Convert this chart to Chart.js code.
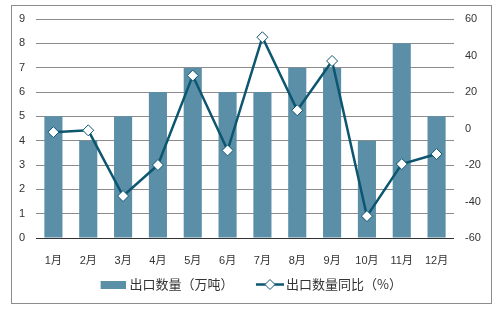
<!DOCTYPE html>
<html>
<head>
<meta charset="utf-8">
<script src="https://cdn.jsdelivr.net/npm/chart.js@4.4.1/dist/chart.umd.min.js"></script>
<style>
  html, body { margin: 0; padding: 0; background: #fff; }
  #wrap { width: 497px; height: 309px; position: relative; }
</style>
</head>
<body>
<div id="wrap"><canvas id="chart" width="497" height="309"></canvas></div>
<script>
const months = ["1月", "2月", "3月", "4月", "5月", "6月", "7月", "8月", "9月", "10月", "11月", "12月"];
const exportQty = [5, 4, 5, 6, 7, 6, 6, 7, 7, 4, 8, 5];
const exportYoy = [-2, -1, -37, -20, 29, -12, 50, 10, 37, -48, -19.5, -14];
const leftTicks = [0, 1, 2, 3, 4, 5, 6, 7, 8, 9];
const rightTicks = [-60, -40, -20, 0, 20, 40, 60];

const barColor = "#5b8fa8";
const lineColor = "#0c5670";
const font = { family: "'Liberation Sans', Arial, 'Noto Sans CJK SC', sans-serif", size: 11 };
const legendFont = { family: "'Noto Sans CJK SC', sans-serif", size: 13 };

// legend symbols (drawn centred on the legend box by chart.js)
function barSymbol() {
  const c = document.createElement("canvas");
  c.width = 33; c.height = 8;
  const g = c.getContext("2d");
  g.fillStyle = barColor;
  g.fillRect(8, 0, 25, 8);
  return c;
}
function lineSymbol() {
  const c = document.createElement("canvas");
  c.width = 37; c.height = 13;
  const g = c.getContext("2d");
  g.strokeStyle = lineColor;
  g.lineWidth = 2.5;
  g.beginPath(); g.moveTo(9, 6.5); g.lineTo(37, 6.5); g.stroke();
  g.fillStyle = "#fff";
  g.lineWidth = 1;
  g.beginPath();
  g.moveTo(23, 1.5); g.lineTo(28, 6.5); g.lineTo(23, 11.5); g.lineTo(18, 6.5); g.closePath();
  g.fill(); g.stroke();
  return c;
}

const frame = {
  id: "frame",
  afterDraw(chart) {
    const ctx = chart.ctx;
    ctx.save();
    ctx.strokeStyle = "#8c8c8c";
    ctx.lineWidth = 1;
    ctx.strokeRect(11.5, 5.5, 480, 298);
    ctx.restore();
  }
};

new Chart(document.getElementById("chart"), {
  data: {
    labels: months,
    datasets: [
      {
        type: "line",
        label: "出口数量同比（%）",
        data: exportYoy,
        yAxisID: "y1",
        borderColor: lineColor,
        borderWidth: 2.5,
        pointStyle: "rectRot",
        pointRadius: 5.5,
        pointBackgroundColor: "#fff",
        pointBorderColor: lineColor,
        pointBorderWidth: 1,
        tension: 0,
        order: 0
      },
      {
        type: "bar",
        label: "出口数量（万吨）",
        data: exportQty,
        yAxisID: "y",
        backgroundColor: barColor,
        categoryPercentage: 1,
        barPercentage: 0.52,
        order: 1
      }
    ]
  },
  options: {
    responsive: false,
    animation: false,
    layout: { padding: { top: 19, left: 0, right: 0, bottom: 8 } },
    scales: {
      x: {
        grid: { display: false },
        border: { display: false },
        ticks: { color: "#333", font: font, padding: 8, maxRotation: 0 },
        afterFit(s) { s.height = 28; }
      },
      y: {
        position: "left",
        min: 0, max: 9,
        afterBuildTicks(s) { s.ticks = leftTicks.map(v => ({ value: v })); },
        grid: {
          color: ctx => ctx.tick.value === 0 ? "#333" : "#8c8c8c",
          drawTicks: false
        },
        border: { display: false },
        ticks: { color: "#333", font: font, padding: 11 },
        afterFit(s) { s.width = 36; }
      },
      y1: {
        position: "right",
        min: -60, max: 60,
        afterBuildTicks(s) { s.ticks = rightTicks.map(v => ({ value: v })); },
        grid: { display: false, drawTicks: false },
        border: { display: false },
        ticks: { color: "#333", font: font, padding: 11 },
        afterFit(s) { s.width = 43; }
      }
    },
    plugins: {
      tooltip: { enabled: false },
      legend: {
        position: "bottom",
        reverse: true,
        labels: {
          color: "#333",
          font: legendFont,
          usePointStyle: true,
          pointStyleWidth: 28,
          padding: 12,
          generateLabels(chart) {
            return chart.data.datasets.map((d, i) => ({
              text: d.type === "bar" ? d.label + "  " : d.label,
              datasetIndex: i,
              pointStyle: d.type === "bar" ? barSymbol() : lineSymbol(),
              fontColor: "#333",
              hidden: false
            }));
          }
        }
      }
    }
  },
  plugins: [frame]
});
</script>
</body>
</html>
